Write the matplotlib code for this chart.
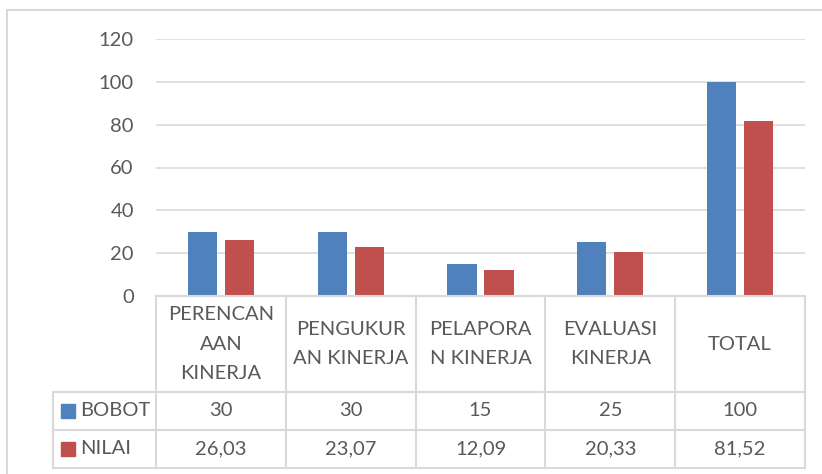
import matplotlib
matplotlib.use("Agg")
import matplotlib.pyplot as plt
from matplotlib.patches import Rectangle
from matplotlib.transforms import blended_transform_factory
from matplotlib.lines import Line2D

# data
categories = ["PERENCAN\nAAN\nKINERJA", "PENGUKUR\nAN KINERJA", "PELAPORA\nN KINERJA",
              "EVALUASI\nKINERJA", "TOTAL"]
bobot = [30, 30, 15, 25, 100]
nilai = [26.03, 23.07, 12.09, 20.33, 81.52]
bobot_labels = ["30", "30", "15", "25", "100"]
nilai_labels = ["26,03", "23,07", "12,09", "20,33", "81,52"]
series_names = ["BOBOT", "NILAI"]

BLUE = "#4F81BD"
RED = "#C0504D"
TXT = "#595959"
GRID = "#D9D9D9"

plt.rcParams['font.family'] = ['Lato', 'DejaVu Sans']

W, H = 822, 474
fig = plt.figure(figsize=(W / 100, H / 100), dpi=100)


def fy(py):
    # pixel row (from top) -> figure fraction
    return 1 - py / H


def fx(px):
    return px / W


# chart area border (cropped on right/bottom in the reference)
fig.patches.append(Rectangle((fx(7), fy(480)), fx(830) - fx(7), fy(10) - fy(480),
                             transform=fig.transFigure, fill=False,
                             edgecolor=GRID, lw=1.5))

left, right, top, bottom = 156, 805, 39, 296
ax = fig.add_axes([fx(left), fy(bottom), fx(right) - fx(left), fy(top) - fy(bottom)])

x = list(range(len(categories)))
bw = 0.225
off = 0.143
ax.bar([i - off for i in x], bobot, width=bw, color=BLUE, zorder=3)
ax.bar([i + off for i in x], nilai, width=bw, color=RED, zorder=3)

ax.set_xlim(-0.5, len(categories) - 0.5)
ax.set_ylim(0, 120)
ax.set_yticks(range(0, 121, 20))
ax.yaxis.grid(True, color=GRID, lw=1.2, zorder=0)
ax.tick_params(axis='y', length=0, pad=16, labelsize=14.5, labelcolor=TXT)
ax.set_xticks([])
for s in ax.spines.values():
    s.set_visible(False)

# data table under the axis
tr = blended_transform_factory(ax.transData, fig.transFigure)
row_top, row_hdr, row_b, row_n = 296, 392, 430, 468
legend_left = 53

lkw = dict(color=GRID, lw=1.5, clip_on=False)
for py in (row_hdr, row_b, row_n):
    fig.add_artist(Line2D([fx(legend_left), fx(right)], [fy(py), fy(py)],
                          transform=fig.transFigure, **lkw))
fig.add_artist(Line2D([fx(left), fx(right)], [fy(row_top), fy(row_top)],
                      transform=fig.transFigure, **lkw))
fig.add_artist(Line2D([fx(legend_left), fx(legend_left)], [fy(row_hdr), fy(row_n)],
                      transform=fig.transFigure, **lkw))
for i in range(len(categories) + 1):
    fig.add_artist(Line2D([i - 0.5, i - 0.5], [fy(row_top), fy(row_n)],
                          transform=tr, **lkw))

tkw = dict(transform=tr, ha="center", va="center", color=TXT, fontsize=14.5)
for i, lab in enumerate(categories):
    fig.text(i, fy((row_top + row_hdr) / 2), lab, linespacing=1.9, **tkw)
    fig.text(i, fy((row_hdr + row_b) / 2), bobot_labels[i], **tkw)
    fig.text(i, fy((row_b + row_n) / 2), nilai_labels[i], **tkw)

# legend keys in the table
for name, col, (r0, r1) in zip(series_names, [BLUE, RED],
                               [(row_hdr, row_b), (row_b, row_n)]):
    cy = (r0 + r1) / 2
    fig.patches.append(Rectangle((fx(61), fy(cy + 7)), fx(14), fy(0) - fy(14),
                                 transform=fig.transFigure, color=col))
    fig.text(fx(80), fy(cy), name, ha="left", va="center", color=TXT, fontsize=14.5)

fig.savefig("out.png", dpi=100)
